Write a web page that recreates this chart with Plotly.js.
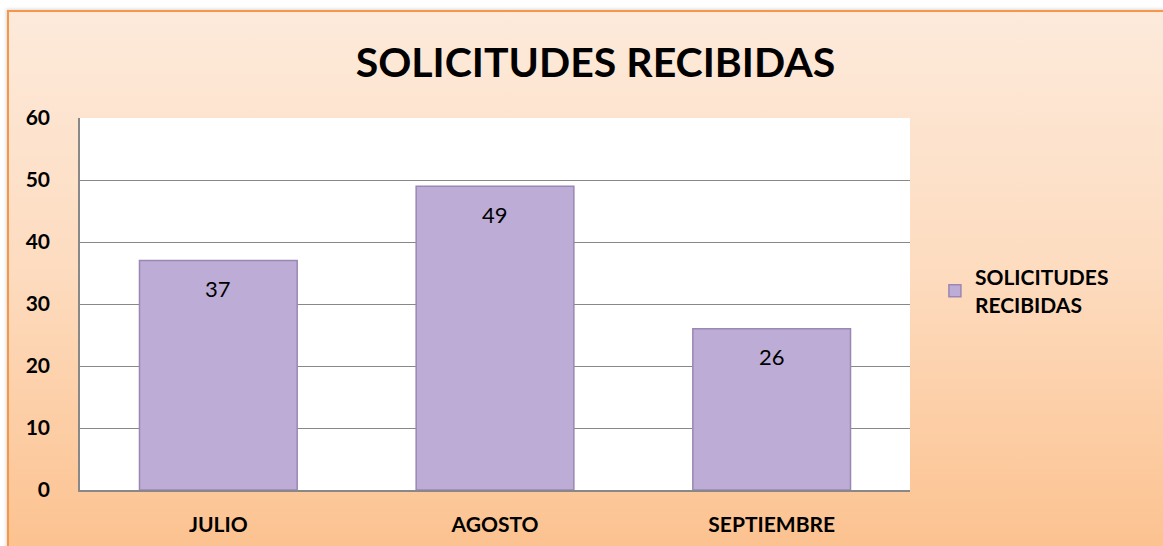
<!DOCTYPE html>
<html><head><meta charset="utf-8">
<script src="https://cdn.plot.ly/plotly-3.0.1.min.js"></script>
<style>
html,body{margin:0;padding:0;background:#fff;width:1163px;height:546px;overflow:hidden;}
#bg{position:absolute;left:7px;top:10px;width:1170px;height:560px;border-top:2px solid #F79646;border-left:2px solid #F79646;background:linear-gradient(to bottom,#FDEADB 0%,#FDDCC0 45%,#FCC08C 100%);box-shadow:-1px -1px 3px rgba(0,0,0,0.15);}
#chart{position:absolute;left:0;top:0;width:1163px;height:546px;}
</style></head><body>
<div id="bg"></div>
<div id="chart"></div>
<script>
const categories = ["JULIO", "AGOSTO", "SEPTIEMBRE"];
const values = [37, 49, 26];
const seriesName = "SOLICITUDES<br>RECIBIDAS";
const chartTitle = "SOLICITUDES RECIBIDAS";
const yTicks = [0, 10, 20, 30, 40, 50, 60];

const trace = {
  type: 'bar', x: categories, y: values, name: seriesName,
  marker: {color: '#BDACD6', line: {color: '#9A88B4', width: 1.5}},
  hoverinfo: 'x+y', showlegend: true
};
const annotations = categories.map((c, i) => ({
  x: c, y: values[i], xref: 'x', yref: 'y', text: String(values[i]),
  showarrow: false, yshift: -28, font: {family: 'Lato, sans-serif', size: 22, color: '#000'}
}));
const layout = {
  width: 1163, height: 546,
  paper_bgcolor: 'rgba(0,0,0,0)', plot_bgcolor: '#fff',
  margin: {l: 80, r: 253, t: 118, b: 56},
  title: {text: '<b>' + chartTitle + '</b>', x: 0.512, xanchor: 'center', y: 0.885, yanchor: 'middle',
          font: {family: 'Lato, sans-serif', size: 41, color: '#000'}},
  bargap: 0.43,
  xaxis: {showline: true, linecolor: '#888', linewidth: 1.5, ticks: '', ticklabelstandoff: 15,
          tickfont: {family: 'Lato, sans-serif', size: 21, color: '#000', weight: 'bold'}},
  yaxis: {range: [0, 60], tickvals: yTicks, showline: true, linecolor: '#888', linewidth: 1.5,
          gridcolor: '#888', gridwidth: 1, zeroline: false, ticks: '', ticklabelstandoff: 24,
          tickfont: {family: 'Lato, sans-serif', size: 21, color: '#000', weight: 'bold'}},
  legend: {x: 1.03, xanchor: 'left', y: 0.535, yanchor: 'middle', bgcolor: 'rgba(0,0,0,0)',
           font: {family: 'Lato, sans-serif', size: 21, color: '#000', weight: 'bold'}},
  annotations: annotations
};
Plotly.newPlot('chart', [trace], layout, {displayModeBar: false});
</script>
</body></html>
